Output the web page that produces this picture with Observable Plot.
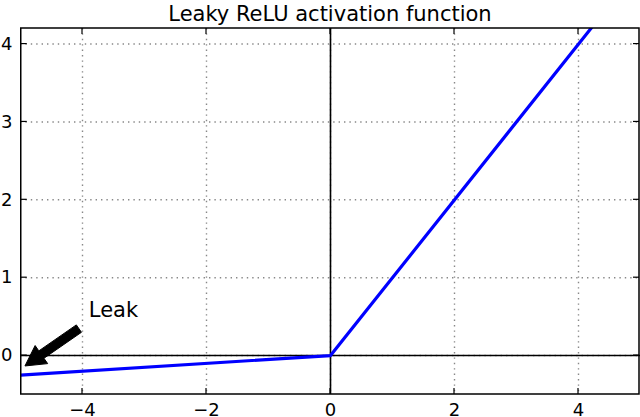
<!DOCTYPE html>
<html>
<head>
<meta charset="utf-8">
<script src="https://cdn.jsdelivr.net/npm/d3@7"></script>
<script src="https://cdn.jsdelivr.net/npm/@observablehq/plot@0.6"></script>
<style>
  body { margin: 0; background: #fff; }
  #title { width: 640px; height: 24px; box-sizing: border-box; padding: 2px 0 0 20px;
    font: 21px "DejaVu Sans"; line-height: 24px; text-align: center; color: #000; white-space: nowrap; }
  #chart svg { display: block; }
</style>
</head>
<body>
<div id="title">Leaky ReLU activation function</div>
<div id="chart"></div>
<script>
// ---- data ----
const titleText = "Leaky ReLU activation function";
const xDomain = [-5, 5];
const yDomain = [-0.5, 4.2];
const xTicks = [-4, -2, 0, 2, 4];
const yTicks = [0, 1, 2, 3, 4];
const curveX = [-5, 0, 5];
const curveY = [-0.25, 0, 5];
const leakLabel = "Leak";
const leakTextPos = [-3.5, 0.5];
const arrowTail = [-4.05, 0.34];
const arrowTip = [-4.92, -0.14];

const curve = curveX.map((x, i) => ({x, y: curveY[i]}));
const fmt = d => (d < 0 ? "\u2212" : "") + Math.abs(d);

function ns(tag, attrs) {
  const el = document.createElementNS("http://www.w3.org/2000/svg", tag);
  for (const k in attrs) el.setAttribute(k, attrs[k]);
  return el;
}

// inward ticks + frame
function frameAndTicks(index, scales) {
  const {x, y} = scales;
  const g = ns("g", {});
  const x0 = x(xDomain[0]) + 0.75, x1 = x(xDomain[1]) - 1;
  const y0 = y(yDomain[1]), y1 = y(yDomain[0]);
  const L = 6;
  for (const t of xTicks) {
    const px = x(t);
    g.appendChild(ns("line", {x1: px, x2: px, y1: y1, y2: y1 - L, stroke: "#000", "stroke-width": 1.2}));
    g.appendChild(ns("line", {x1: px, x2: px, y1: y0, y2: y0 + L, stroke: "#000", "stroke-width": 1.2}));
  }
  for (const t of yTicks) {
    const py = y(t);
    g.appendChild(ns("line", {x1: x0, x2: x0 + L, y1: py, y2: py, stroke: "#000", "stroke-width": 1.2}));
    g.appendChild(ns("line", {x1: x1, x2: x1 - L, y1: py, y2: py, stroke: "#000", "stroke-width": 1.2}));
  }
  g.appendChild(ns("rect", {x: x0, y: y0, width: x1 - x0, height: y1 - y0, fill: "none", stroke: "#000", "stroke-width": 1.5}));
  return g;
}

// filled annotation arrow
function arrowMark(index, scales) {
  const {x, y} = scales;
  const T = [x(arrowTail[0]), y(arrowTail[1])];
  const P = [x(arrowTip[0]), y(arrowTip[1])];
  const dx = P[0] - T[0], dy = P[1] - T[1];
  const len = Math.hypot(dx, dy);
  const u = [dx / len, dy / len], n = [-u[1], u[0]];
  const w = 4.5, hw = 11, hl = 20;
  const B = [P[0] - u[0] * hl, P[1] - u[1] * hl];
  const pts = [
    [T[0] + n[0] * w, T[1] + n[1] * w],
    [B[0] + n[0] * w, B[1] + n[1] * w],
    [B[0] + n[0] * hw, B[1] + n[1] * hw],
    P,
    [B[0] - n[0] * hw, B[1] - n[1] * hw],
    [B[0] - n[0] * w, B[1] - n[1] * w],
    [T[0] - n[0] * w, T[1] - n[1] * w]
  ];
  return ns("path", {d: "M" + pts.map(p => p.join(",")).join("L") + "Z", fill: "#000", stroke: "#000", "stroke-width": 1, "stroke-linejoin": "miter"});
}

const chart = Plot.plot({
  width: 640,
  height: 393,
  marginTop: 4,
  marginBottom: 23,
  marginLeft: 20,
  marginRight: 0,
  style: {fontFamily: "DejaVu Sans", fontSize: "18px", color: "#000", background: "#fff"},
  x: {domain: xDomain},
  y: {domain: yDomain},
  marks: [
    Plot.gridX(xTicks, {stroke: "#888", strokeOpacity: 1, strokeWidth: 1.4, strokeDasharray: "1.4,4"}),
    Plot.gridY(yTicks, {stroke: "#888", strokeOpacity: 1, strokeWidth: 1.4, strokeDasharray: "1.4,4"}),
    Plot.ruleX([0], {stroke: "#000", strokeWidth: 1.6}),
    Plot.ruleY([0], {stroke: "#000", strokeWidth: 1.6}),
    Plot.line(curve, {x: "x", y: "y", stroke: "#0000ff", strokeWidth: 3.2, clip: true}),
    Plot.axisX(xTicks, {tickSize: 0, tickPadding: 9, tickFormat: fmt, fontSize: 18, label: null}),
    Plot.axisY(yTicks, {tickSize: 0, tickPadding: 8, tickFormat: fmt, fontSize: 18, label: null}),
    Plot.text([leakLabel], {x: () => leakTextPos[0], y: () => leakTextPos[1], text: d => d, textAnchor: "middle", lineAnchor: "bottom", fontSize: 21, fill: "#000"}),
    arrowMark,
    frameAndTicks
  ]
});
document.getElementById("chart").appendChild(chart);
</script>
</body>
</html>
